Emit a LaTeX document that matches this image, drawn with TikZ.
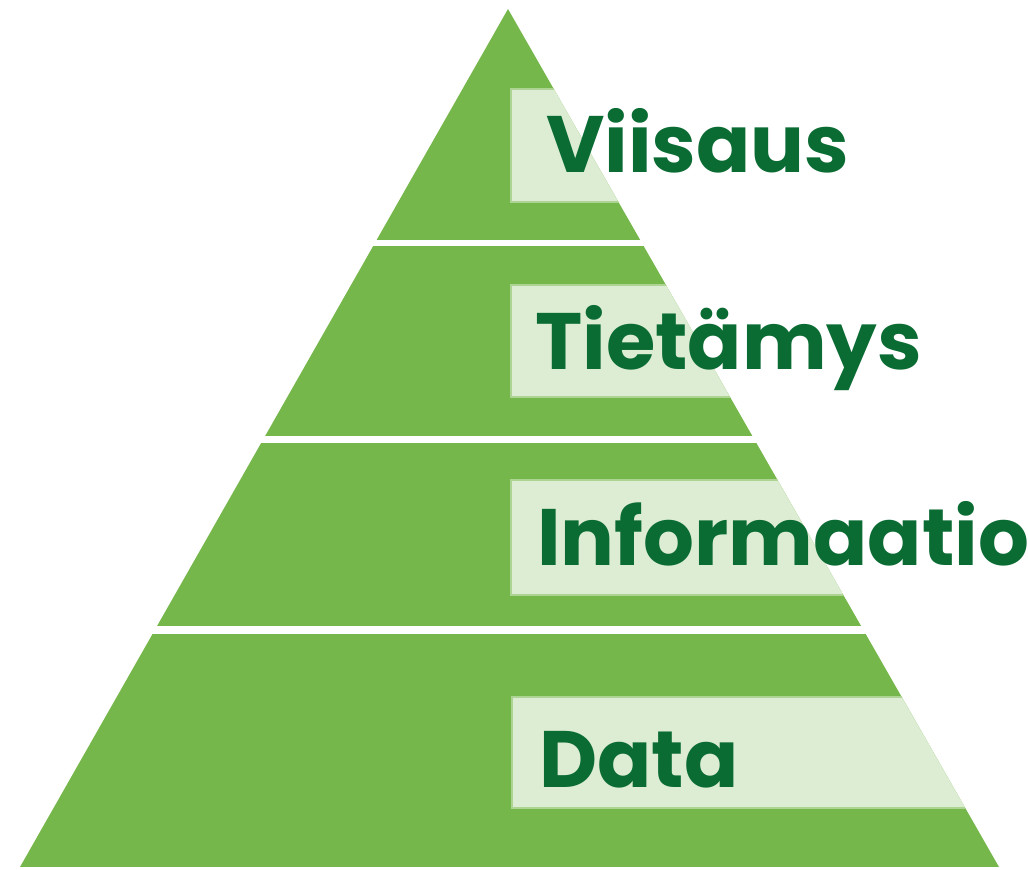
\documentclass[tikz,border=0pt]{standalone}
\usepackage{fontspec}
\setmainfont{Poppins}
\definecolor{pgreen}{HTML}{76B74B}
\definecolor{plight}{HTML}{DDEDD3}
\definecolor{pedge}{HTML}{ADD493}
\definecolor{ptext}{HTML}{0A6B33}
\tikzset{
  band/.style={fill=pgreen},
  labelbox/.style={fill=plight, draw=pedge, line width=2pt},
  lbl/.style={anchor=base west, inner sep=0pt, text=ptext, font=\fontsize{80}{80}\selectfont\bfseries}
}
\begin{document}
\begin{tikzpicture}[x=1pt,y=-1pt]
\useasboundingbox (0,0) rectangle (1028,870);
\begin{scope}
  \clip (508,9) -- (999,867) -- (20,867) -- cycle;
  \fill[band] (0,0) rectangle (1028,240);
  \fill[band] (0,246) rectangle (1028,436);
  \fill[band] (0,443) rectangle (1028,626);
  \fill[band] (0,634) rectangle (1028,867);
  \filldraw[labelbox] (511,89) rectangle (1040,202);
  \filldraw[labelbox] (511,285) rectangle (1040,397);
  \filldraw[labelbox] (511,480) rectangle (1040,595);
  \filldraw[labelbox] (512,697) rectangle (1040,808);
\end{scope}
\node[lbl] (viisaus) at (546,172) {Viisaus};
\node[lbl] (tietamys) at (535,369) {Tietämys};
\node[lbl] (informaatio) at (537,565) {Informaatio};
\node[lbl] (data) at (539,787) {Data};
\end{tikzpicture}
\end{document}
